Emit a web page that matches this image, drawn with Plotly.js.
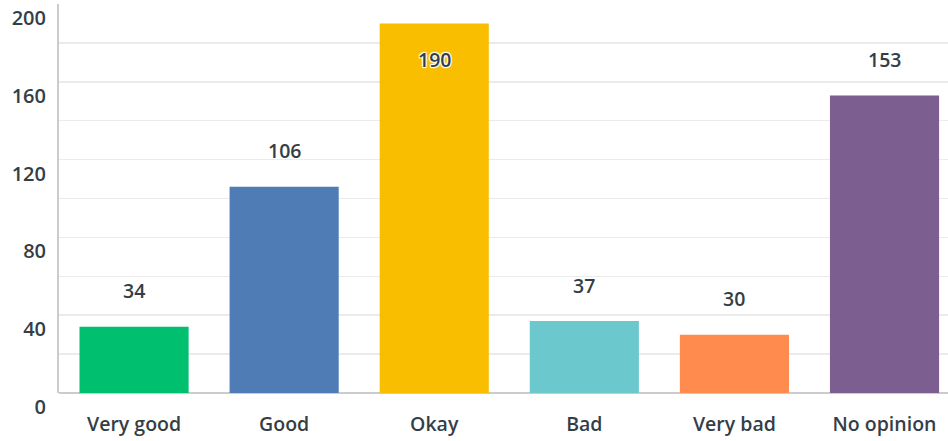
<!DOCTYPE html>
<html><head><meta charset="utf-8">
<script src="https://cdn.plot.ly/plotly-3.0.1.min.js"></script>
<style>html,body{margin:0;padding:0;background:#fff}</style>
</head><body>
<div id="chart" style="width:948px;height:441px"></div>
<script>
const categories = ["Very good", "Good", "Okay", "Bad", "Very bad", "No opinion"];
const counts = [34, 106, 190, 37, 30, 153];
const colors = ["#00BF6F", "#507CB6", "#F9BE00", "#6BC8CD", "#FF8B4F", "#7D5E90"];
const yTickVals = [0, 20, 40, 60, 80, 100, 120, 140, 160, 180, 200];
const yTickText = ["0", "", "40", "", "80", "", "120", "", "160", "", "200"];

const fontFam = "Open Sans, sans-serif";
const txtColor = "#333E48";

const trace = {
  type: "bar",
  x: categories,
  y: counts,
  marker: {color: colors},
  hoverinfo: "none"
};

const annotations = categories.map((c, i) => ({
  x: c, y: counts[i], xref: "x", yref: "y",
  text: String(counts[i]),
  showarrow: false,
  yanchor: "middle",
  yshift: counts[i] > 170 ? -36 : 36,
  font: {family: fontFam, size: 19.5, color: txtColor, weight: 600,
         shadow: counts[i] > 170 ? "1px 1px 1px #fff, -1px -1px 1px #fff, 1px -1px 1px #fff, -1px 1px 1px #fff" : "none"}
}));

const layout = {
  width: 948, height: 441,
  margin: {l: 59, r: 0, t: 4, b: 48},
  paper_bgcolor: "#fff", plot_bgcolor: "#fff",
  bargap: 0.273,
  showlegend: false,
  xaxis: {
    range: [-0.5, 5.423],
    showgrid: false, zeroline: false,
    showline: false,
    ticks: "", ticklabelstandoff: 17,
    tickfont: {family: fontFam, size: 19.5, color: txtColor, weight: 600}
  },
  yaxis: {
    range: [0, 200.001],
    tickvals: yTickVals,
    ticktext: yTickText,
    showgrid: true, gridcolor: "#EBEBEB", gridwidth: 1.5,
    zeroline: true, zerolinecolor: "#CCCCCC", zerolinewidth: 2,
    showline: true, linecolor: "#CCCCCC", linewidth: 2,
    ticks: "", ticklabelstandoff: 7, ticklabelposition: "outside bottom",
    tickfont: {family: fontFam, size: 20, color: txtColor, weight: 600}
  },
  annotations: annotations
};

Plotly.newPlot("chart", [trace], layout, {displayModeBar: false, staticPlot: true});
</script>
</body></html>
